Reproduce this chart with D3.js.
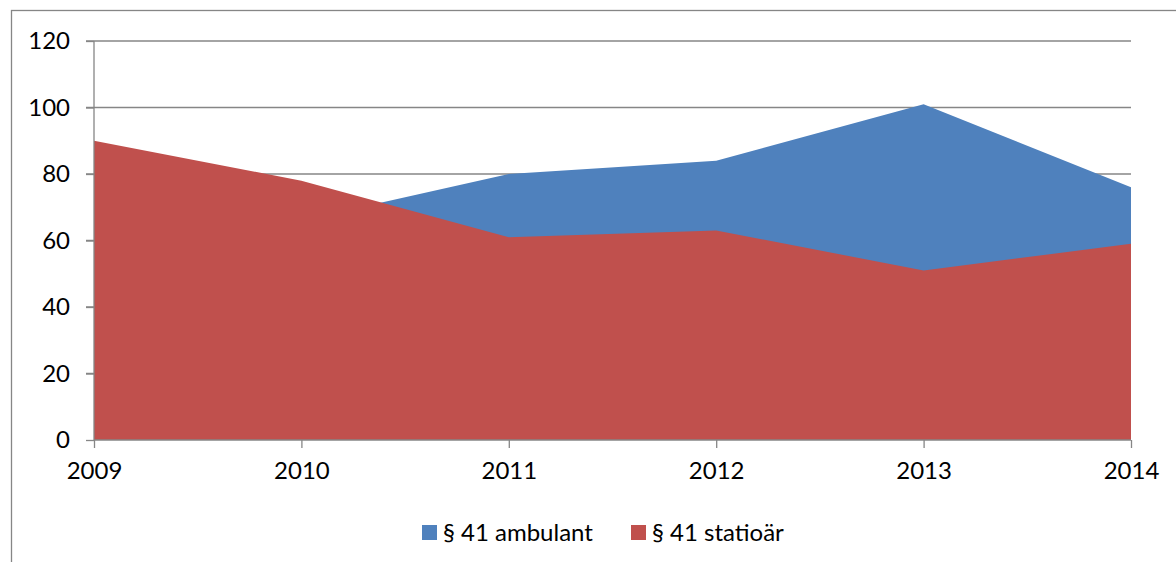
<!DOCTYPE html>
<html>
<head>
<meta charset="utf-8">
<script src="https://cdn.jsdelivr.net/npm/d3@7"></script>
<style>
  body { margin: 0; background: #fff; }
  text { font-family: Lato, "Open Sans", sans-serif; fill: #000; }
</style>
</head>
<body>
<script>
// data
var years = [2009, 2010, 2011, 2012, 2013, 2014];
var ambulant = [60, 66, 80, 84, 101, 76];
var stationaer = [90, 78, 61, 63, 51, 59];
var yTicks = [0, 20, 40, 60, 80, 100, 120];
var seriesNames = ["§ 41 ambulant", "§ 41 statioär"];
var colors = ["#4F81BD", "#C0504D"];

var width = 1176, height = 562;
var plotLeft = 94, plotRight = 1131, plotTop = 41, plotBottom = 440;
var grey = "#868686";
var fontSize = "24px";

var svg = d3.select("body")
    .append("svg")
    .attr("width", width)
    .attr("height", height);

// outer frame (runs off the right and bottom edge)
svg.append("rect")
    .attr("x", 11.5)
    .attr("y", 10.5)
    .attr("width", 1200)
    .attr("height", 600)
    .attr("fill", "none")
    .attr("stroke", grey)
    .attr("stroke-width", 1.3);

var x = d3.scalePoint().domain(years).range([plotLeft, plotRight]);
var y = d3.scaleLinear().domain([0, 120]).range([plotBottom, plotTop]);

// gridlines
svg.append("g").selectAll("line")
    .data(yTicks.filter(function(d){ return d > 0; }))
    .enter().append("line")
    .attr("x1", plotLeft - 8)
    .attr("x2", plotRight)
    .attr("y1", function(d){ return y(d); })
    .attr("y2", function(d){ return y(d); })
    .attr("stroke", grey)
    .attr("stroke-width", 1.3);

function createArea(values, color){
    var area = d3.area()
        .x(function(d, i){ return x(years[i]); })
        .y0(y(0))
        .y1(function(d){ return y(d); });
    svg.append("path")
        .datum(values)
        .attr("d", area)
        .attr("fill", color);
}

createArea(ambulant, colors[0]);
createArea(stationaer, colors[1]);

// y axis
var yAxis = svg.append("g")
    .attr("transform", "translate(" + plotLeft + ",0)")
    .call(d3.axisLeft(y).tickValues(yTicks).tickSize(8).tickPadding(16));
yAxis.select(".domain").attr("stroke", grey).attr("stroke-width", 1.3).attr("d", "M0," + plotTop + "V" + plotBottom);
yAxis.selectAll(".tick line").attr("stroke", grey).attr("stroke-width", 1.3);
yAxis.selectAll(".tick text").style("font-size", fontSize).attr("fill", "#000");

// x axis
var xAxis = svg.append("g")
    .attr("transform", "translate(0," + plotBottom + ")")
    .call(d3.axisBottom(x).tickSize(8).tickPadding(14).tickFormat(d3.format("d")));
xAxis.select(".domain").attr("stroke", grey).attr("stroke-width", 1.3).attr("d", "M" + plotLeft + ",0H" + plotRight);
xAxis.selectAll(".tick line").attr("stroke", grey).attr("stroke-width", 1.3);
xAxis.selectAll(".tick text").style("font-size", fontSize).attr("fill", "#000");

// legend
var legendX = [422, 631];
seriesNames.forEach(function(name, i){
    svg.append("rect")
        .attr("x", legendX[i])
        .attr("y", 525)
        .attr("width", 15)
        .attr("height", 15)
        .attr("fill", colors[i]);
    svg.append("text")
        .attr("x", legendX[i] + 21)
        .attr("y", 541)
        .style("font-size", fontSize)
        .text(name);
});
</script>
</body>
</html>
